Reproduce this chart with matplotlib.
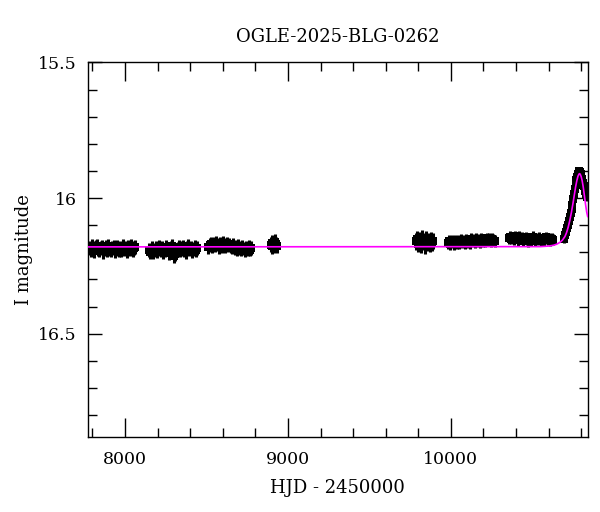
import numpy as np
import matplotlib
matplotlib.use("Agg")
import matplotlib.pyplot as plt
from matplotlib.ticker import MultipleLocator

plt.rcParams['font.family'] = ['DejaVu Serif']

title = "OGLE-2025-BLG-0262"
xlabel = "HJD - 2450000"
ylabel = "I magnitude"

# ---- photometry (HJD-2450000, I mag), per observing season ----
t1 = [7782, 7790, 7797, 7805, 7812, 7820, 7828, 7835, 7843, 7851, 7858, 7866, 7874, 7881, 7889,
      7897, 7905, 7913, 7921, 7929, 7937, 7945, 7953, 7961, 7969, 7977, 7985, 7993, 8001, 8010,
      8019, 8028, 8037, 8046, 8055, 8064]
m1 = [16.183, 16.190, 16.178, 16.186, 16.195, 16.181, 16.176, 16.189, 16.192, 16.184, 16.179, 16.197,
      16.187, 16.182, 16.191, 16.176, 16.188, 16.193, 16.185, 16.180, 16.196, 16.186, 16.179, 16.190,
      16.184, 16.192, 16.177, 16.188, 16.183, 16.194, 16.181, 16.187, 16.178, 16.190, 16.185, 16.182]

t2 = [8147, 8155, 8163, 8171, 8179, 8187, 8195, 8203, 8211, 8219, 8227, 8235, 8243, 8251, 8259,
      8267, 8275, 8283, 8291, 8299, 8307, 8315, 8323, 8331, 8339, 8347, 8355, 8363, 8371, 8379,
      8387, 8395, 8403, 8411, 8419, 8427, 8435, 8442]
m2 = [16.192, 16.198, 16.186, 16.200, 16.190, 16.183, 16.195, 16.188, 16.179, 16.193, 16.186, 16.197,
      16.191, 16.181, 16.189, 16.202, 16.194, 16.184, 16.176, 16.212, 16.205, 16.196, 16.187, 16.182,
      16.193, 16.186, 16.180, 16.191, 16.197, 16.185, 16.178, 16.189, 16.183, 16.194, 16.187, 16.180,
      16.191, 16.185]

t3 = [8512, 8520, 8528, 8536, 8544, 8552, 8560, 8568, 8576, 8584, 8592, 8600, 8608, 8616, 8624,
      8632, 8640, 8648, 8656, 8664, 8672, 8680, 8688, 8696, 8704, 8712, 8720, 8728, 8736, 8744,
      8752, 8760, 8768, 8776]
m3 = [16.180, 16.174, 16.170, 16.178, 16.168, 16.175, 16.165, 16.172, 16.180, 16.170, 16.176, 16.166,
      16.173, 16.179, 16.169, 16.175, 16.171, 16.178, 16.182, 16.174, 16.186, 16.180, 16.188, 16.177,
      16.184, 16.190, 16.181, 16.186, 16.192, 16.183, 16.188, 16.180, 16.190, 16.185]

t4 = [8893, 8899, 8905, 8911, 8917, 8923, 8929, 8935]
m4 = [16.172, 16.165, 16.178, 16.168, 16.175, 16.162, 16.170, 16.176]

t5 = [9786, 9793, 9800, 9807, 9814, 9821, 9828, 9835, 9842, 9849, 9856, 9863, 9870, 9877, 9884, 9890]
m5 = [16.160, 16.150, 16.168, 16.155, 16.172, 16.148, 16.163, 16.158, 16.175, 16.152, 16.165, 16.160,
      16.170, 16.155, 16.166, 16.158]

t6 = [9980, 9988, 9996, 10004, 10012, 10020, 10028, 10036, 10044, 10052, 10060, 10068, 10076, 10084,
      10092, 10100, 10108, 10116, 10124, 10132, 10140, 10148, 10156, 10164, 10172, 10180, 10188, 10196,
      10204, 10212, 10220, 10228, 10236, 10244, 10252, 10260, 10268]
m6 = [16.165, 16.160, 16.168, 16.158, 16.163, 16.170, 16.157, 16.164, 16.160, 16.167, 16.155, 16.162,
      16.158, 16.165, 16.153, 16.161, 16.157, 16.164, 16.150, 16.159, 16.155, 16.162, 16.152, 16.158,
      16.154, 16.161, 16.150, 16.157, 16.153, 16.160, 16.149, 16.156, 16.152, 16.158, 16.150, 16.155,
      16.160]

t7 = [10355, 10363, 10371, 10379, 10387, 10395, 10403, 10411, 10419, 10427, 10435, 10443, 10451, 10459,
      10467, 10475, 10483, 10491, 10499, 10507, 10515, 10523, 10531, 10539, 10547, 10555, 10563, 10571,
      10579, 10587, 10595, 10603, 10611, 10619, 10627]
m7 = [16.148, 16.142, 16.150, 16.145, 16.153, 16.140, 16.147, 16.155, 16.143, 16.150, 16.146, 16.158,
      16.149, 16.144, 16.152, 16.160, 16.147, 16.155, 16.150, 16.143, 16.157, 16.149, 16.154, 16.146,
      16.152, 16.158, 16.148, 16.155, 16.150, 16.145, 16.153, 16.148, 16.156, 16.150, 16.154]

t8 = [10695, 10702, 10708, 10714, 10720, 10726, 10731, 10736, 10741, 10746, 10751, 10756, 10761, 10766,
      10771, 10776, 10781, 10785, 10789, 10793, 10797, 10801, 10806, 10811, 10816, 10821, 10826, 10831,
      10836]
m8 = [16.150, 16.135, 16.125, 16.110, 16.100, 16.085, 16.070, 16.055, 16.040, 16.025, 16.005, 15.985,
      15.965, 15.950, 15.935, 15.922, 15.912, 15.905, 15.900, 15.905, 15.910, 15.920, 15.930, 15.945,
      15.955, 15.965, 15.975, 15.985, 15.995]

season_times = [t1, t2, t3, t4, t5, t6, t7, t8]
season_mags = [m1, m2, m3, m4, m5, m6, m7, m8]
season_errs = [0.026, 0.026, 0.025, 0.028, 0.030, 0.022, 0.020, 0.016]

# ---- model light curve ----
model_t = [7770, 10550, 10600, 10630, 10650, 10670, 10685, 10700, 10710, 10720, 10730, 10740, 10750,
           10758, 10766, 10774, 10780, 10786, 10790, 10794, 10800, 10806, 10812, 10818, 10826, 10834,
           10840]
model_m = [16.180, 16.179, 16.177, 16.174, 16.170, 16.163, 16.155, 16.142, 16.128, 16.108, 16.083,
           16.053, 16.018, 15.988, 15.958, 15.934, 15.920, 15.912, 15.910, 15.912, 15.921, 15.936,
           15.957, 15.983, 16.020, 16.052, 16.068]

fig = plt.figure(figsize=(6.0, 5.12), dpi=100)
ax = fig.add_axes([0.146, 0.147, 0.8335, 0.731])

for t, m, e in zip(season_times, season_mags, season_errs):
    ax.errorbar(t, m, yerr=np.full(len(m), e), fmt='s', color='black', ms=5.5,
                elinewidth=2.2, capsize=2.0, capthick=1.2, mew=0)

ax.plot(model_t, model_m, color='#ff00ff', lw=1.2, zorder=5)

ax.set_xlim(7770, 10840)
ax.set_ylim(16.88, 15.5)

ax.xaxis.set_major_locator(MultipleLocator(1000))
ax.xaxis.set_minor_locator(MultipleLocator(200))
ax.yaxis.set_major_locator(MultipleLocator(0.5))
ax.yaxis.set_minor_locator(MultipleLocator(0.1))
ax.tick_params(which='both', direction='in', top=True, right=True, width=1.0, labelsize=12.5)
ax.tick_params(axis='x', which='major', length=13.5, pad=10)
ax.tick_params(axis='x', which='minor', length=6.5)
ax.tick_params(axis='y', which='major', length=10, pad=8)
ax.tick_params(axis='y', which='minor', length=6.5)
ax.yaxis.set_major_formatter(matplotlib.ticker.FuncFormatter(lambda v, p: ('%g' % v)))
for s in ax.spines.values():
    s.set_linewidth(1.0)

ax.set_title(title, fontsize=13, pad=15)
ax.set_xlabel(xlabel, fontsize=13, labelpad=8)
ax.set_ylabel(ylabel, fontsize=13, labelpad=6)
ax.yaxis.set_label_coords(-0.11, 0.5)

fig.savefig("out.png", dpi=100)
